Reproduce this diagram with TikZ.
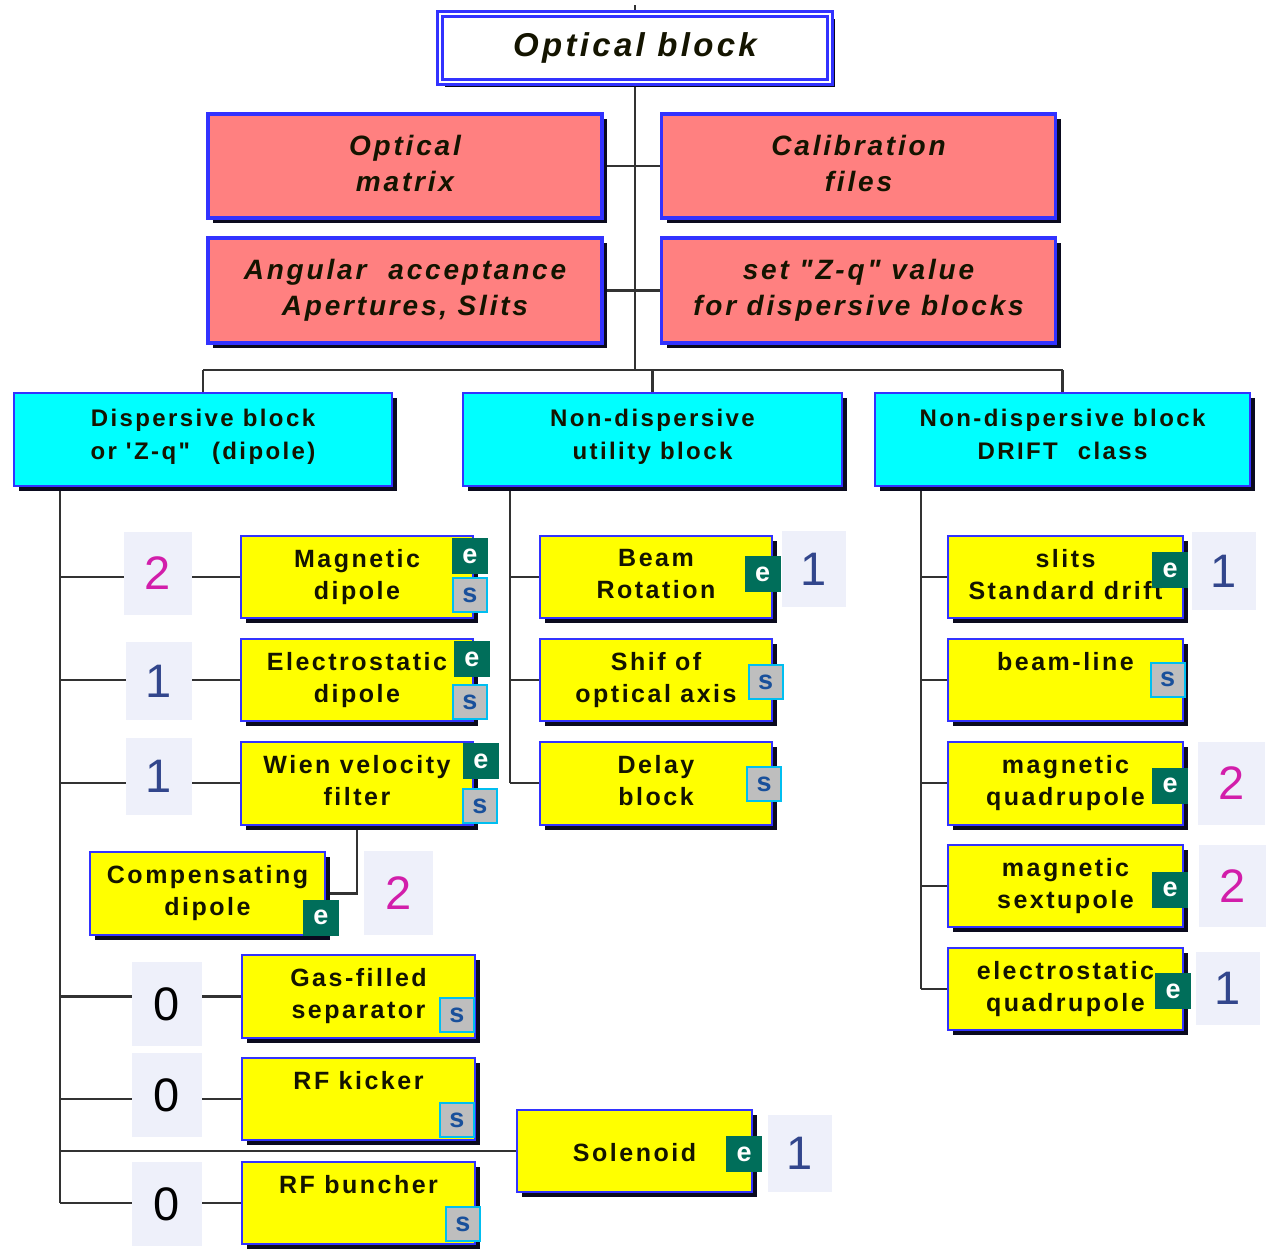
\documentclass[tikz,border=0pt]{standalone}
\usepackage{fontspec}
\setmainfont{Liberation Sans}
\newfontfamily\lsp{Liberation Sans}[LetterSpace=10]
\usetikzlibrary{shadows}
\definecolor{linec}{RGB}{50,50,50}
\definecolor{bord}{RGB}{50,50,255}
\definecolor{shadowc}{RGB}{10,10,30}
\definecolor{yel}{RGB}{255,255,0}
\definecolor{cyanc}{RGB}{0,255,255}
\definecolor{pinkc}{RGB}{255,128,128}
\definecolor{numbg}{RGB}{238,240,250}
\definecolor{numm}{RGB}{210,30,170}
\definecolor{numb}{RGB}{50,70,140}
\definecolor{tealc}{RGB}{0,110,90}
\definecolor{sgray}{RGB}{190,190,190}
\definecolor{sbord}{RGB}{0,190,240}
\definecolor{stext}{RGB}{25,80,155}
\definecolor{txtc}{RGB}{20,20,0}
\pgfdeclarelayer{bg}
\pgfsetlayers{bg,main}
\newcommand\ystrut{\rule[-5.6pt]{0pt}{32pt}}
\newcommand\pstrut{\rule[-5.8pt]{0pt}{36pt}}
\tikzset{
  conn/.style={draw=linec, line width=2.5pt},
  shd/.style={drop shadow={shadow xshift=5pt, shadow yshift=-5pt, opacity=1, fill=shadowc}},
  struts/.style={execute at begin node=#1, execute at end node=#1},
  ybox/.style={shd, struts=\ystrut, draw=bord, line width=2pt, fill=yel, minimum width=232pt, minimum height=82pt,
    align=center, inner sep=0pt, text=txtc, font=\lsp\bfseries\fontsize{25}{32}\selectfont},
  cbox/.style={shd, struts=\strut, draw=bord, line width=2pt, fill=cyanc, minimum width=378pt, minimum height=93pt,
    align=center, inner sep=0pt, text=txtc, font=\lsp\bfseries\fontsize{24}{33}\selectfont},
  pbox/.style={shd, struts=\pstrut, draw=bord, line width=3.5pt, fill=pinkc, minimum width=394pt, minimum height=104pt,
    align=center, inner sep=0pt, text=txtc, font=\lsp\bfseries\itshape\fontsize{28}{36}\selectfont},
  topbox/.style={shd, draw=bord, line width=2.5pt, double=white, double distance=2.5pt, fill=white,
    minimum width=390pt, minimum height=68pt, inner sep=0pt, text=txtc,
    font=\lsp\bfseries\itshape\fontsize{33}{36}\selectfont},
  ebadge/.style={fill=tealc, text=white, minimum size=36pt, inner sep=0pt,
    font=\bfseries\fontsize{27}{27}\selectfont},
  sbadge/.style={fill=sgray, draw=sbord, line width=2pt, text=stext, minimum size=34pt, inner sep=0pt,
    font=\bfseries\fontsize{27}{27}\selectfont},
  numbox/.style={fill=numbg, inner sep=0pt, font=\fontsize{47}{47}\selectfont},
  nm/.style={numbox, text=numm},
  nb/.style={numbox, text=numb},
  nk/.style={numbox, text=black},
}
\begin{document}
\begin{tikzpicture}[x=1pt,y=-1pt]
\begin{pgfonlayer}{bg}
\fill[white] (0,0) rectangle (1268,1253);
\end{pgfonlayer}
\useasboundingbox (0,0) rectangle (1268,1253);

% top
\node[topbox] (ob) at (635,48) {Optical block};
\node[pbox] (om) at (405,166) {Optical\\matrix};
\node[pbox] (cf) at (858.5,166) {Calibration\\files};
\node[pbox, minimum height=105pt] (aa) at (405,290.5) {Angular\hspace{22pt}acceptance\\Apertures, Slits};
\node[pbox, minimum height=105pt] (zq) at (858.5,290.5) {set \symbol{34}Z-q\symbol{34} value\\for dispersive blocks};

% category boxes
\node[cbox] (disp) at (203,439.5) {Dispersive block\\or \symbol{39}Z-q\symbol{34}\hspace{22pt}(dipole)};
\node[cbox, minimum width=379pt] (util) at (652.5,439.5) {Non-dispersive\\utility block};
\node[cbox, minimum width=375pt] (drift) at (1062.5,439.5) {Non-dispersive block\\DRIFT\hspace{20pt}class};

% left column
\node[ybox] (md) at (357,577) {Magnetic\\dipole};
\node[ybox] (ed) at (357,680) {Electrostatic\\dipole};
\node[ybox, minimum height=83pt] (wv) at (357,783) {Wien velocity\\filter};
\node[ybox, minimum width=235pt, minimum height=83pt] (cd) at (207.5,893.5) {Compensating\\dipole};
\node[ybox, minimum width=233pt, minimum height=83pt] (gf) at (358.5,996.5) {Gas-filled\\separator};
\node[ybox, minimum width=233pt] (rk) at (358.5,1099) {RF kicker\\\mbox{}};
\node[ybox, minimum width=235pt] (sol) at (634.5,1151) {Solenoid};
\node[ybox, minimum width=233pt] (rb) at (358.5,1203) {RF buncher\\\mbox{}};

% middle column
\node[ybox] (br) at (656,577) {Beam\\Rotation};
\node[ybox] (so) at (656,680) {Shif of\\optical axis};
\node[ybox, minimum height=83pt] (db) at (656,783) {Delay\\block};

% right column
\node[ybox, minimum width=235pt] (sl) at (1065.5,577) {slits\\Standard drift};
\node[ybox, minimum width=235pt] (bl) at (1065.5,680) {beam-line\\\mbox{}};
\node[ybox, minimum width=235pt, minimum height=83pt] (mq) at (1065.5,783) {magnetic\\quadrupole};
\node[ybox, minimum width=235pt] (ms) at (1065.5,886) {magnetic\\sextupole};
\node[ybox, minimum width=235pt] (eq) at (1065.5,989) {electrostatic\\quadrupole};

% badges
\node[ebadge] (mde) at (470,556) {e};
\node[sbadge] (mds) at (470,595) {s};
\node[ebadge] (ede) at (472,659) {e};
\node[sbadge] (eds) at (470,702) {s};
\node[ebadge] (wve) at (481,761) {e};
\node[sbadge] (wvs) at (480,806) {s};
\node[ebadge] (cde) at (321,917.5) {e};
\node[sbadge] (gfs) at (457,1015) {s};
\node[sbadge] (rks) at (457,1120) {s};
\node[sbadge] (rbs) at (463,1224) {s};
\node[ebadge] (sole) at (744,1154) {e};
\node[ebadge] (bre) at (762.5,574) {e};
\node[sbadge] (sos) at (765.5,682) {s};
\node[sbadge] (dbs) at (764,784) {s};
\node[ebadge] (sle) at (1170,570) {e};
\node[sbadge] (bls) at (1167.5,679.5) {s};
\node[ebadge] (mqe) at (1170,785.5) {e};
\node[ebadge] (mse) at (1170,889.5) {e};
\node[ebadge] (eqe) at (1173,991) {e};

% trunk coordinates
\coordinate (top) at (635,5);
\coordinate (bus) at (635,370);
\coordinate (lt) at (60,486);
\coordinate (mt) at (510,486);
\coordinate (rt) at (921,486);

\begin{pgfonlayer}{bg}
\draw[conn] (top) -- (ob.north);
\draw[conn] (ob.south) -- (bus);
\draw[conn] (om.east) -- (cf.west);
\draw[conn] (aa.east) -- (zq.west);
\draw[conn] (disp.north |- bus) -- (drift.north |- bus);
\draw[conn] (disp.north |- bus) -- (disp.north);
\draw[conn] (util.north |- bus) -- (util.north);
\draw[conn] (drift.north |- bus) -- (drift.north);
% left
\draw[conn] (lt) -- (lt |- rb);
\draw[conn] (lt |- md) -- (md.west);
\draw[conn] (lt |- ed) -- (ed.west);
\draw[conn] (lt |- wv) -- (wv.west);
\draw[conn] (wv.south) |- (cd.east);
\draw[conn] (lt |- gf) -- (gf.west);
\draw[conn] (lt |- rk) -- (rk.west);
\draw[conn] (lt |- sol) -- (sol.west);
\draw[conn] (lt |- rb) -- (rb.west);
% middle
\draw[conn] (mt) -- (mt |- db);
\draw[conn] (mt |- br) -- (br.west);
\draw[conn] (mt |- so) -- (so.west);
\draw[conn] (mt |- db) -- (db.west);
% right
\draw[conn] (rt) -- (rt |- eq);
\draw[conn] (rt |- sl) -- (sl.west);
\draw[conn] (rt |- bl) -- (bl.west);
\draw[conn] (rt |- mq) -- (mq.west);
\draw[conn] (rt |- ms) -- (ms.west);
\draw[conn] (rt |- eq) -- (eq.west);
\end{pgfonlayer}

% number boxes
\node[nm, minimum width=68pt, minimum height=83pt] (n1) at (158,573.5) {2};
\node[nb, minimum width=66pt, minimum height=78pt] (n2) at (159,681) {1};
\node[nb, minimum width=66pt, minimum height=77pt] (n3) at (159,776.5) {1};
\node[nm, minimum width=69pt, minimum height=84pt] (n4) at (398.5,893) {2};
\node[nk, minimum width=70pt, minimum height=84pt] (n5) at (167,1004) {0};
\node[nk, minimum width=70pt, minimum height=84pt] (n6) at (167,1095) {0};
\node[nk, minimum width=70pt, minimum height=84pt] (n7) at (167,1204) {0};
\node[nb, minimum width=64pt, minimum height=77pt] (n8) at (800,1153.5) {1};
\node[nb, minimum width=64pt, minimum height=76pt] (n9) at (814,569) {1};
\node[nb, minimum width=64pt, minimum height=78pt] (n10) at (1224,571) {1};
\node[nm, minimum width=67pt, minimum height=83pt] (n11) at (1231.5,783.5) {2};
\node[nm, minimum width=67pt, minimum height=82pt] (n12) at (1232.5,886) {2};
\node[nb, minimum width=64pt, minimum height=73pt] (n13) at (1228,988.5) {1};
\end{tikzpicture}
\end{document}
